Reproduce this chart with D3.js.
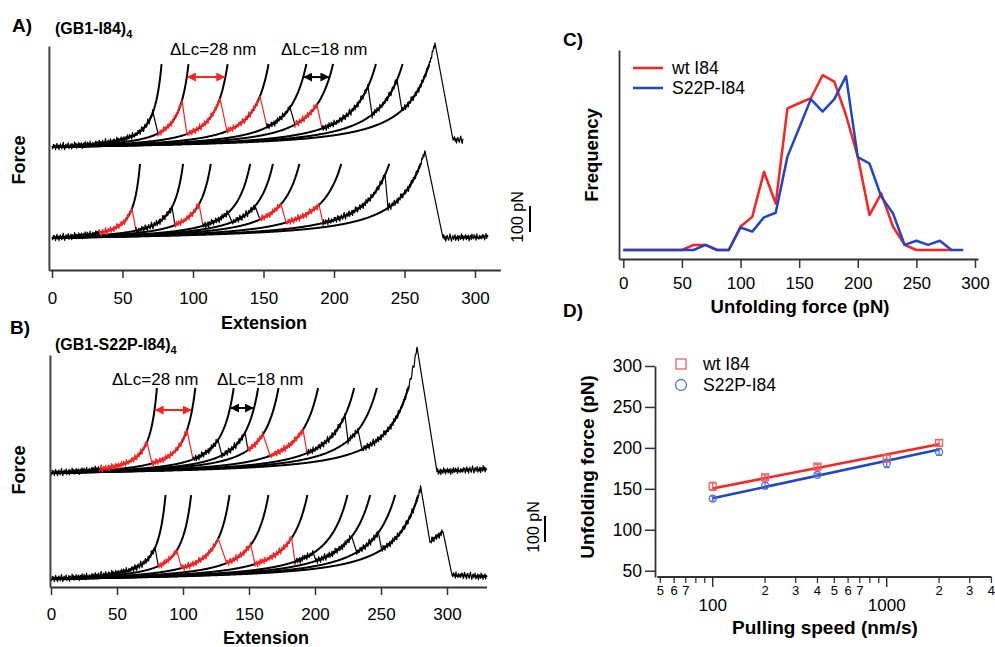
<!DOCTYPE html>
<html><head><meta charset="utf-8">
<script src="https://cdn.jsdelivr.net/npm/d3@7/dist/d3.min.js"></script>
<style>
body{margin:0;background:#fff;}
svg text{font-family:"Liberation Sans",Arial,sans-serif;fill:#000;}
</style></head><body>
<svg id="fig" width="995" height="647"></svg>
<script>
// ================= DATA =================
const extTicks = [0,50,100,150,200,250,300];
// Panel A (GB1-I84)4 : contour lengths of WLC fits (nm), unfolding peaks (nm), drop ends (nm)
const lcA1   = [88.3,110,141.5,174.5,205,226.5,261,282.5,304];
const peakA1 = [71.6,92.2,119.1,147.5,168.8,187.9,224.1,244.7,271.6];
const dropA1 = [75.2,95.7,124.1,152.5,172.3,191.5,227,248.2];
const redA1  = [null,0,0,0,null,0,null,null,null];   // red from this extension on (null = black)
const tailA1 = [[284.4,27],[291.5,27]];               // [extension, force] after detachment
const lcA2   = [71.5,106.5,129,161,179.5,201,235,274,299.5];
const peakA2 = [56.7,85.1,104.3,124.8,144.0,162.4,189.4,236.2,264.5];
const dropA2 = [59.6,87.2,107.1,127.7,147.5,166,192.2,238.3];
const redA2  = [34,null,0,null,null,0,0,null,null];
const tailA2 = [[277.3,0],[309.2,4]];
// Panel B (GB1-S22P-I84)4
const lcB1   = [91,124,157,178,195.5,229.5,260.5,280,307];
const peakB1 = [72.7,103,126.5,147,160.6,190.9,222.7,232.6,277.3];
const dropB1 = [76.5,107.6,129.5,149.2,166,194,225,235.6];
const redB1  = [37,0,null,null,0,0,null,null,null];
const tailB1 = [[292.4,5],[330.3,15]];
const lcB2   = [98.5,120.5,153.5,187,220.5,255,274.5,296,316];
const peakB2 = [78.8,95.2,126.7,151.3,182.3,198.7,227.8,248,280.1];
const dropB2 = [81.3,99,133.1,154.5,184.8,200.8,231.6,250.5];
const redB2  = [null,0,0,0,0,null,null,null,null];
const tailB2 = [[287.1,142],[297,181],[303.8,15],[330.3,8]];
// instrument noise (pN), hand-read jitter amplitude
const noise = [4,-7,10,-2,8,-11,1,13,-5,6,-12,4,10,-3,-9,5,15,-2,-13,3,8,-6,2,12,-10,3,-5,9,-12,7,0,-7,14,-3,8,-10,5,-2,11,-8,6,-4,9,-13,2,7,-9,12,-1,-6,10,-3,5,-11,13,-4,1,-8,7,-5];

// Panel C histogram (frequency vs unfolding force, 10 pN bins)
const binsWt   = [0,10,20,30,40,50,60,70,80,90,100,110,120,130,140,150,160,170,180,190,200,210,220,230,240,250,260,270,280];
const freqWt   = [0,0,0,0,0,0,1.1,1.1,0,0,5.1,7.2,17,10.1,30.8,31.9,33,38,36.6,29.3,20.3,7.6,12.3,5.1,1.1,0,0,0,0];
const binsS22P = [0,10,20,30,40,50,60,70,80,90,100,110,120,130,140,150,160,170,180,190,200,210,220,230,240,250,260,270,280,290];
const freqS22P = [0,0,0,0,0,0,0,1.1,0,0,4.9,4,7.1,8.1,20.3,26.5,32.8,30.1,32.8,37.8,20.2,18.8,11.6,8,1.1,2,1.1,2,0,0];
const forceTicks = [0,50,100,150,200,250,300];

// Panel D pulling-speed dependence
const speeds    = [100,200,400,1000,2000];
const forceWt   = [153,164,177,187,206];
const errWt     = [5,3,3,4,4];
const forceS22P = [138,154,167,181,195];
const errS22P   = [3,4,2,5,4];
const fitSpeeds = [100,2000];
const fitWt     = [150.5,204.5];
const fitS22P   = [138.5,198];
const unfTicks  = [50,100,150,200,250,300];
const speedMajor = [100,1000];
const speedMinor = [50,60,70,80,90,200,300,400,500,600,700,800,900,2000,3000,4000];
const speedMinorLabeled = [50,60,70,200,300,400,500,600,700,2000,3000,4000];

// ================= DRAWING =================
const svg = d3.select('#fig');
const RED = '#ff2020', BLK = '#000', BLUE = '#1f46c4';
const K = 17.7, STEP = 0.5;
const FONT = '"Liberation Sans",Arial,sans-serif';

function wlc(x, L){ const r = x/L; return K*(1/(4*(1-r)*(1-r)) - 0.25 + r); }
function invWlc(F, L){ let lo=0, hi=L*0.9999; for(let i=0;i<60;i++){ const m=(lo+hi)/2; if(wlc(m,L)<F) lo=m; else hi=m; } return lo; }

function drawTrace(g, x, y, lc, peaks, drops, red, tail, fMax){
  // WLC fits
  lc.forEach(L=>{
    const xe = invWlc(fMax, L);
    const pts = d3.range(0, xe, STEP).map(v=>[v, wlc(v,L)]);
    pts.push([xe, fMax]);
    g.append('path').attr('d', d3.line().x(d=>x(d[0])).y(d=>y(d[1]))(pts))
      .attr('fill','none').attr('stroke','#000').attr('stroke-width',2);
  });
  // trace
  const pts = []; let k = 0;
  const push = (xv, F, c, noisy) => pts.push({x:xv, F: F + (noisy ? noise[(k++)%noise.length] : 0), c});
  for(let i=0;i<lc.length;i++){
    const x0 = i===0 ? 0 : drops[i-1], x1 = peaks[i];
    const col = v => (red[i]!==null && v>=red[i]) ? RED : BLK;
    for(let v=x0; v<x1; v+=STEP) push(v, wlc(v, lc[i]), col(v), true);
    push(x1, wlc(x1, lc[i]), col(x1), false);
    if(i<lc.length-1) push(drops[i], wlc(drops[i], lc[i+1]), col(x1), false);
  }
  // tail after detachment
  push(tail[0][0], tail[0][1], BLK, false);
  for(let j=1;j<tail.length;j++){
    const [xa,Fa] = tail[j-1], [xb,Fb] = tail[j];
    const flat = Math.abs((Fb-Fa)/(xb-xa)) < 10;
    if(flat){ for(let v=xa+STEP; v<xb; v+=STEP) push(v, Fa+(Fb-Fa)*(v-xa)/(xb-xa), BLK, true); }
    push(xb, Fb, BLK, false);
  }
  const runs = []; let cur = null;
  pts.forEach((p,i)=>{
    if(!cur || cur.c!==p.c){ cur = {c:p.c, pts: i>0 ? [pts[i-1]] : []}; runs.push(cur); }
    cur.pts.push(p);
  });
  runs.forEach(r=>{
    g.append('path').attr('d', d3.line().x(d=>x(d.x)).y(d=>y(d.F))(r.pts))
      .attr('fill','none').attr('stroke', r.c).attr('stroke-width',1.2).attr('stroke-linejoin','round');
  });
}

// arrow markers
const defs = svg.append('defs');
[['arR',RED],['arK',BLK]].forEach(([id,c])=>{
  defs.append('marker').attr('id',id).attr('viewBox','0 0 10 10').attr('refX',9).attr('refY',5)
    .attr('markerWidth',4.5).attr('markerHeight',4.5).attr('orient','auto-start-reverse')
    .append('path').attr('d','M0,0L10,5L0,10z').attr('fill',c);
});
function dArrow(g, x, y, F, L1, L2, c, id){
  g.append('line').attr('x1', x(invWlc(F,L1))+1).attr('x2', x(invWlc(F,L2))-1)
    .attr('y1', y(F)).attr('y2', y(F)).attr('stroke', c).attr('stroke-width',2)
    .attr('marker-start',`url(#${id})`).attr('marker-end',`url(#${id})`);
}
function styleAxis(sel, fs){
  sel.attr('font-family', FONT).attr('font-size', fs);
  sel.selectAll('text').attr('fill','#000');
  sel.selectAll('.domain').attr('stroke','#333').attr('stroke-width',1.8);
  sel.selectAll('.tick line').attr('stroke','#333').attr('stroke-width',1.5);
}
function label(g, txt, x, y, fs, bold, anchor, rot){
  const t = g.append('text').text(txt).attr('font-size', fs).attr('font-weight', bold?'bold':'normal')
    .attr('text-anchor', anchor||'start');
  if(rot) t.attr('transform', `translate(${x},${y}) rotate(${rot})`); else t.attr('x',x).attr('y',y);
  return t;
}
function titleSub(g, main, x, y){
  const t = g.append('text').attr('x',x).attr('y',y).attr('font-size',16).attr('font-weight','bold');
  t.append('tspan').text(main);
  t.append('tspan').text('4').attr('font-size',11).attr('dy',4);
}

// ---------- Panel A ----------
const gA = svg.append('g');
const xA  = d3.scaleLinear().domain([0,300]).range([52,475]);
const yA1 = d3.scaleLinear().domain([0,100]).range([147,121]);
const yA2 = d3.scaleLinear().domain([0,100]).range([238,212]);
drawTrace(gA, xA, yA1, lcA1, peakA1, dropA1, redA1, tailA1, 319);
drawTrace(gA, xA, yA2, lcA2, peakA2, dropA2, redA2, tailA2, 285);
dArrow(gA, xA, yA1, 269, lcA1[1], lcA1[2], RED, 'arR');
dArrow(gA, xA, yA1, 269, lcA1[4], lcA1[5], BLK, 'arK');
{
  const ax = xA.copy().domain([-2.2,318]).range([xA(-2.2), xA(318)]);
  const s = gA.append('g').attr('transform','translate(0,270)')
    .call(d3.axisBottom(ax).tickValues(extTicks).tickSize(8).tickPadding(14).tickSizeOuter(0));
  styleAxis(s, 17);
  const yl = d3.scaleLinear().domain([0,1]).range([270,46]);
  const s2 = gA.append('g').attr('transform',`translate(${xA(-2.2)},0)`)
    .call(d3.axisLeft(yl).tickValues([]).tickSizeOuter(0));
  styleAxis(s2, 17);
  s2.selectAll('.domain').attr('stroke','#444').attr('stroke-width',2);
}
label(gA, 'A)', 12, 32, 19, true);
titleSub(gA, '(GB1-I84)', 55, 34);
label(gA, '\u0394Lc=28 nm', 170, 55, 17, false);
label(gA, '\u0394Lc=18 nm', 281, 55, 17, false);
label(gA, 'Force', 25, 160, 18, true, 'middle', -90);
label(gA, 'Extension', 264, 329, 18, true, 'middle');
gA.append('line').attr('x1',530).attr('x2',530).attr('y1',232).attr('y2',232 - (yA2(0)-yA2(100))).attr('stroke','#000').attr('stroke-width',2);
label(gA, '100 pN', 523, 217, 16, false, 'middle', -90);

// ---------- Panel B ----------
const gB = svg.append('g');
const xB  = d3.scaleLinear().domain([0,300]).range([51,447]);
const yB1 = d3.scaleLinear().domain([0,100]).range([473,447]);
const yB2 = d3.scaleLinear().domain([0,100]).range([579,553]);
drawTrace(gB, xB, yB1, lcB1, peakB1, dropB1, redB1, tailB1, 327);
drawTrace(gB, xB, yB2, lcB2, peakB2, dropB2, redB2, tailB2, 323);
dArrow(gB, xB, yB1, 242, lcB1[0], lcB1[1], RED, 'arR');
dArrow(gB, xB, yB1, 250, lcB1[2], lcB1[3], BLK, 'arK');
{
  const ax = xB.copy().domain([-0.8,330]).range([xB(-0.8), xB(330)]);
  const s = gB.append('g').attr('transform','translate(0,587)')
    .call(d3.axisBottom(ax).tickValues(extTicks).tickSize(8).tickPadding(13).tickSizeOuter(0));
  styleAxis(s, 17);
  const yl = d3.scaleLinear().domain([0,1]).range([587,355]);
  const s2 = gB.append('g').attr('transform',`translate(${xB(-0.8)},0)`)
    .call(d3.axisLeft(yl).tickValues([]).tickSizeOuter(0));
  styleAxis(s2, 17);
  s2.selectAll('.domain').attr('stroke','#444').attr('stroke-width',2);
}
label(gB, 'B)', 10, 334, 19, true);
titleSub(gB, '(GB1-S22P-I84)', 55, 350);
label(gB, '\u0394Lc=28 nm', 112, 385, 17, false);
label(gB, '\u0394Lc=18 nm', 217, 385, 17, false);
label(gB, 'Force', 25, 470, 18, true, 'middle', -90);
label(gB, 'Extension', 266, 644, 18, true, 'middle');
gB.append('line').attr('x1',545).attr('x2',545).attr('y1',542).attr('y2',542-(yB2(0)-yB2(100))).attr('stroke','#000').attr('stroke-width',2);
label(gB, '100 pN', 539, 527, 16, false, 'middle', -90);

// ---------- Panel C ----------
const gC = svg.append('g');
const xC = d3.scaleLinear().domain([0,300]).range([623.3,975]);
const yC = d3.scaleLinear().domain([0,40]).range([250,66]);
{
  const ax = xC.copy().domain([xC.invert(619), xC.invert(978)]).range([619,978]);
  const s = gC.append('g').attr('transform','translate(0,259)')
    .call(d3.axisBottom(ax).tickValues(forceTicks).tickSize(9).tickPadding(9).tickSizeOuter(0));
  styleAxis(s, 17);
  const yl = d3.scaleLinear().domain([0,1]).range([259,50]);
  const s2 = gC.append('g').attr('transform','translate(619,0)')
    .call(d3.axisLeft(yl).tickValues([]).tickSizeOuter(0));
  styleAxis(s2, 17);
}
const lineC = d3.line().x(d=>xC(d[0])).y(d=>yC(d[1]));
gC.append('path').attr('d', lineC(binsWt.map((b,i)=>[b,freqWt[i]]))).attr('fill','none').attr('stroke',RED).attr('stroke-width',2.5).attr('stroke-linejoin','round');
gC.append('path').attr('d', lineC(binsS22P.map((b,i)=>[b,freqS22P[i]]))).attr('fill','none').attr('stroke',BLUE).attr('stroke-width',2.5).attr('stroke-linejoin','round');
gC.append('line').attr('x1',633).attr('x2',663).attr('y1',68).attr('y2',68).attr('stroke',RED).attr('stroke-width',2.5);
gC.append('line').attr('x1',633).attr('x2',663).attr('y1',88).attr('y2',88).attr('stroke',BLUE).attr('stroke-width',2.5);
label(gC, 'wt I84', 672, 74, 17.5, false);
label(gC, 'S22P-I84', 672, 94, 17.5, false);
label(gC, 'C)', 563, 46, 19, true);
label(gC, 'Frequency', 598, 155, 18.5, true, 'middle', -90);
label(gC, 'Unfolding force (pN)', 800, 313, 18.5, true, 'middle');

// ---------- Panel D ----------
const gD = svg.append('g');
const xD = d3.scaleLog().domain([100,1000]).range([712.7,886.7]);
const yD = d3.scaleLinear().domain([50,300]).range([570.7,366]);
const axisY = 577;
{
  const ay = yD.copy().domain([yD.invert(577),300]).range([577,366]);
  const s = gD.append('g').attr('transform','translate(655,0)')
    .call(d3.axisLeft(ay).tickValues(unfTicks).tickSize(10).tickPadding(3).tickSizeOuter(0));
  styleAxis(s, 17.5);
  // log x axis
  gD.append('line').attr('x1', xD(48)).attr('x2', xD(4000)).attr('y1',axisY).attr('y2',axisY).attr('stroke','#333').attr('stroke-width',1.8);
  gD.selectAll('.mnt').data(speedMinor).join('line').attr('x1',d=>xD(d)).attr('x2',d=>xD(d))
    .attr('y1',axisY).attr('y2',axisY+6).attr('stroke','#333').attr('stroke-width',1.3);
  gD.selectAll('.mjt').data(speedMajor).join('line').attr('x1',d=>xD(d)).attr('x2',d=>xD(d))
    .attr('y1',axisY).attr('y2',axisY+10).attr('stroke','#333').attr('stroke-width',1.5);
  gD.selectAll('.mnl').data(speedMinorLabeled).join('text').attr('x',d=>xD(d)).attr('y',595)
    .attr('text-anchor','middle').attr('font-size',13).text(d=>String(d)[0]);
  gD.selectAll('.mjl').data(speedMajor).join('text').attr('x',d=>xD(d)).attr('y',611)
    .attr('text-anchor','middle').attr('font-size',17).text(d=>d);
}
const lineD = d3.line().x(d=>xD(d[0])).y(d=>yD(d[1]));
gD.append('path').attr('d', lineD(fitSpeeds.map((s,i)=>[s,fitWt[i]]))).attr('stroke',RED).attr('stroke-width',2.5).attr('fill','none');
gD.append('path').attr('d', lineD(fitSpeeds.map((s,i)=>[s,fitS22P[i]]))).attr('stroke',BLUE).attr('stroke-width',2.5).attr('fill','none');
const LRED = '#ff5a5a', LBLUE = '#4f74d8';
function errBars(vals, errs, c){
  speeds.forEach((s,i)=>{
    const x = xD(s), y1 = yD(vals[i]-errs[i]), y2 = yD(vals[i]+errs[i]);
    gD.append('line').attr('x1',x).attr('x2',x).attr('y1',y1).attr('y2',y2).attr('stroke',c).attr('stroke-width',1.3);
    [y1,y2].forEach(yy=>gD.append('line').attr('x1',x-3).attr('x2',x+3).attr('y1',yy).attr('y2',yy).attr('stroke',c).attr('stroke-width',1.3));
  });
}
errBars(forceWt, errWt, LRED);
errBars(forceS22P, errS22P, LBLUE);
gD.selectAll('.sq').data(speeds).join('rect').attr('x',(d)=>xD(d)-3.5).attr('y',(d,i)=>yD(forceWt[i])-3.5)
  .attr('width',7).attr('height',7).attr('fill','none').attr('stroke',LRED).attr('stroke-width',1.3);
gD.selectAll('.ci').data(speeds).join('circle').attr('cx',d=>xD(d)).attr('cy',(d,i)=>yD(forceS22P[i]))
  .attr('r',3.5).attr('fill','none').attr('stroke',LBLUE).attr('stroke-width',1.3);
gD.append('rect').attr('x',676).attr('y',359).attr('width',10).attr('height',10).attr('fill','none').attr('stroke',LRED).attr('stroke-width',1.3);
gD.append('circle').attr('cx',681).attr('cy',385).attr('r',5.5).attr('fill','none').attr('stroke',LBLUE).attr('stroke-width',1.3);
label(gD, 'wt I84', 703, 370, 17.5, false);
label(gD, 'S22P-I84', 703, 391, 17.5, false);
label(gD, 'D)', 563, 317, 19, true);
label(gD, 'Unfolding force (pN)', 594, 467, 19, true, 'middle', -90);
label(gD, 'Pulling speed (nm/s)', 825, 634, 19, true, 'middle');
</script>
</body></html>
